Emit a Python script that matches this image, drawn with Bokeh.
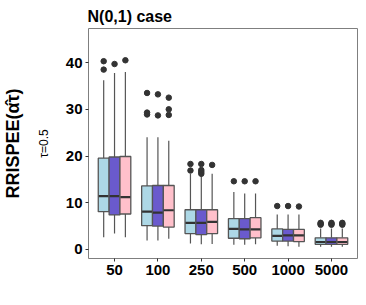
import numpy as np
from bokeh.plotting import figure
from bokeh.models import Range1d, FixedTicker, Title, ColumnDataSource
from bokeh.embed import file_html
from bokeh.resources import INLINE

categories = ["50", "100", "250", "500", "1000", "5000"]
series_colors = ["#ADD8E6", "#6A5ACD", "#FFC0CB"]

# series 1 (light blue)
lo_1 = [2.6, 1.9, 1.3, 1.0, 0.8, 0.6]
q1_1 = [8.1, 5.1, 3.4, 2.4, 1.8, 1.1]
med_1 = [11.4, 8.1, 5.7, 4.4, 2.9, 1.6]
q3_1 = [19.55, 13.6, 8.5, 6.6, 4.4, 2.5]
hi_1 = [36.2, 24.0, 16.2, 12.3, 7.5, 4.5]
out_1 = [[38.5, 40.3], [28.9, 29.3, 33.5], [16.9, 18.3], [14.6], [9.3], [5.3, 5.5, 5.7]]

# series 2 (slate blue)
lo_2 = [3.4, 1.9, 1.1, 1.0, 0.7, 0.6]
q1_2 = [7.4, 5.0, 3.2, 2.3, 1.8, 1.1]
med_2 = [11.4, 7.9, 5.7, 4.3, 3.0, 1.6]
q3_2 = [19.8, 13.7, 8.5, 6.6, 4.3, 2.5]
hi_2 = [37.8, 24.0, 15.8, 12.0, 7.5, 4.5]
out_2 = [[39.7], [28.7, 33.2], [16.2, 16.6, 17.0, 18.3], [14.6], [9.3], [5.3, 5.5, 5.7]]

# series 3 (pink)
lo_3 = [2.6, 2.3, 1.2, 1.1, 0.6, 0.6]
q1_3 = [7.6, 4.8, 3.4, 2.5, 1.7, 1.1]
med_3 = [11.2, 8.4, 5.9, 4.3, 3.0, 1.6]
q3_3 = [19.9, 13.7, 8.5, 6.8, 4.3, 2.5]
hi_3 = [38.0, 23.3, 16.2, 12.0, 7.5, 4.5]
out_3 = [[40.5], [28.8, 30.0, 32.5], [18.1], [14.6], [9.2], [5.3, 5.5, 5.7]]

y_ticks = [0, 10, 20, 30, 40]

series = [
    (lo_1, q1_1, med_1, q3_1, hi_1, out_1),
    (lo_2, q1_2, med_2, q3_2, hi_2, out_2),
    (lo_3, q1_3, med_3, q3_3, hi_3, out_3),
]

FONT = "Liberation Sans"

p = figure(width=358, height=289, output_backend="svg", toolbar_location=None,
           x_range=Range1d(0.4, len(categories) + 0.6), y_range=Range1d(-1.93, 47.3),
           min_border_left=88, min_border_right=1, min_border_top=28, min_border_bottom=31)

p.title.text = "N(0,1) case"
p.title.text_font = FONT
p.title.text_font_size = "16px"
p.title.text_font_style = "bold"
p.title.text_color = "black"
p.title.align = "left"
p.title.offset = -1
p.title.standoff = 8

p.xgrid.visible = False
p.ygrid.visible = False
p.outline_line_color = "#7f7f7f"
p.outline_line_width = 1
p.background_fill_color = "white"
p.border_fill_color = "white"

xs = np.arange(1, len(categories) + 1)
p.xaxis.ticker = FixedTicker(ticks=list(xs))
p.xaxis.major_label_overrides = {int(i): c for i, c in zip(xs, categories)}
p.yaxis.ticker = FixedTicker(ticks=y_ticks)
for ax in (p.xaxis, p.yaxis):
    ax.axis_line_color = None
    ax.major_tick_line_color = "#333333"
    ax.major_tick_out = 3
    ax.major_tick_in = 0
    ax.minor_tick_line_color = None
    ax.major_label_text_font = FONT
    ax.major_label_text_font_size = "15px"
    ax.major_label_text_font_style = "bold"
    ax.major_label_text_color = "black"
p.xaxis.major_label_standoff = 3
p.yaxis.major_label_standoff = 3

box_w = 0.25
offsets = [-0.25, 0.0, 0.25]
for (lo, q1, med, q3, hi, outs), col, off in zip(series, series_colors, offsets):
    x = xs + off
    src = ColumnDataSource(dict(x=x, lo=lo, q1=q1, med=med, q3=q3, hi=hi,
                                xl=x - box_w / 2 + 0.01, xr=x + box_w / 2 - 0.01))
    p.segment(x0="x", y0="q3", x1="x", y1="hi", source=src, line_color="#555555", line_width=1.2)
    p.segment(x0="x", y0="lo", x1="x", y1="q1", source=src, line_color="#555555", line_width=1.2)
    p.vbar(x="x", width=box_w, bottom="q1", top="q3", source=src,
           fill_color=col, line_color="#555555", line_width=1.3)
    p.segment(x0="xl", y0="med", x1="xr", y1="med", source=src, line_color="#333333", line_width=2.2)
    ox, oy = [], []
    for xi, ol in zip(x, outs):
        for v in ol:
            ox.append(xi)
            oy.append(v)
    p.scatter(ox, oy, size=5.5, fill_color="#333333", line_color="#333333")

sub = Title(text="τ=0.5", align="center", text_font=FONT, text_font_size="12px",
            text_font_style="normal", text_color="black", standoff=23, offset=-5)
p.add_layout(sub, "left")
main = Title(text="RRISPEE(α̂τ)", align="center", text_font=FONT, text_font_size="18px",
             text_font_style="bold", text_color="black", standoff=1)
p.add_layout(main, "left")

open("out.html", "w").write(file_html(p, INLINE))
